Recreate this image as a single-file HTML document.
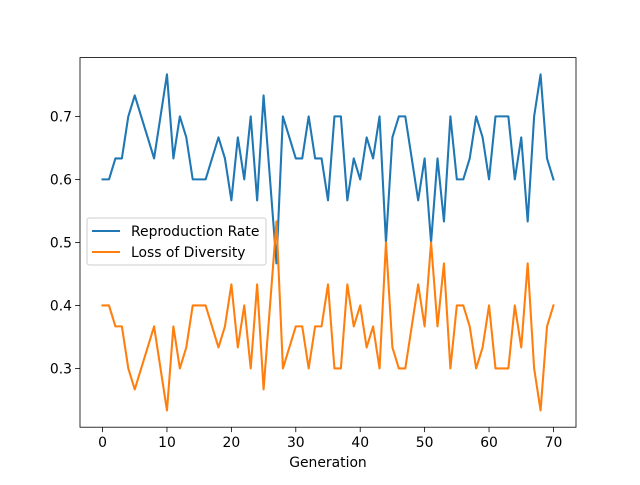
<!DOCTYPE html>
<html><head><meta charset="utf-8"><style>
body{margin:0;background:#fff}
svg text{font-family:"DejaVu Sans","Liberation Sans",sans-serif;font-size:13.9px;fill:#000}
</style></head><body>
<svg id="chart" width="640" height="480" xmlns="http://www.w3.org/2000/svg">
<rect width="640" height="480" fill="#fff"/>
<g id="plot"></g>
</svg>
<script>
const generations = Array.from({length:71},(_,i)=>i);
const reproductionRate = [0.6,0.6,0.6333,0.6333,0.7,0.7333,0.7,0.6667,0.6333,0.7,0.7667,0.6333,0.7,0.6667,0.6,0.6,0.6,0.6333,0.6667,0.6333,0.5667,0.6667,0.6,0.7,0.5667,0.7333,0.6,0.4667,0.7,0.6667,0.6333,0.6333,0.7,0.6333,0.6333,0.5667,0.7,0.7,0.5667,0.6333,0.6,0.6667,0.6333,0.7,0.5,0.6667,0.7,0.7,0.6333,0.5667,0.6333,0.5,0.6333,0.5333,0.7,0.6,0.6,0.6333,0.7,0.6667,0.6,0.7,0.7,0.7,0.6,0.6667,0.5333,0.7,0.7667,0.6333,0.6];
const lossOfDiversity = [0.4,0.4,0.3667,0.3667,0.3,0.2667,0.3,0.3333,0.3667,0.3,0.2333,0.3667,0.3,0.3333,0.4,0.4,0.4,0.3667,0.3333,0.3667,0.4333,0.3333,0.4,0.3,0.4333,0.2667,0.4,0.5333,0.3,0.3333,0.3667,0.3667,0.3,0.3667,0.3667,0.4333,0.3,0.3,0.4333,0.3667,0.4,0.3333,0.3667,0.3,0.5,0.3333,0.3,0.3,0.3667,0.4333,0.3667,0.5,0.3667,0.4667,0.3,0.4,0.4,0.3667,0.3,0.3333,0.4,0.3,0.3,0.3,0.4,0.3333,0.4667,0.3,0.2333,0.3667,0.4];
const xTicks = [0,10,20,30,40,50,60,70];
const yTicks = [0.3,0.4,0.5,0.6,0.7];

const L=80,R=576,T=57.6,B=427.2;
const xMin=-3.5,xMax=73.5,yMin=0.2067,yMax=0.7933;
const xs=v=>L+(v-xMin)/(xMax-xMin)*(R-L);
const ys=v=>B-(v-yMin)/(yMax-yMin)*(B-T);
const NS="http://www.w3.org/2000/svg";
const g=document.getElementById('plot');
function mk(tag,attrs,parent){const e=document.createElementNS(NS,tag);for(const k in attrs)e.setAttribute(k,attrs[k]);(parent||g).appendChild(e);return e;}

function series(vals,color,name){
  const p=mk('polyline',{points:vals.map((v,i)=>xs(generations[i])+','+ys(v)).join(' '),fill:'none',stroke:color,'stroke-width':2.08,'stroke-linejoin':'round','stroke-linecap':'square'});
  
  
}
series(reproductionRate,'#1f77b4','reproduction-rate-line');
series(lossOfDiversity,'#ff7f0e','loss-of-diversity-line');

const frame=mk('rect',{x:L,y:T,width:R-L,height:B-T,fill:'none',stroke:'#000','stroke-width':0.8});



xTicks.forEach(t=>{
  const x=xs(t);
  mk('line',{x1:x,x2:x,y1:B,y2:B+4.9,stroke:'#000','stroke-width':0.8});
  const tx=mk('text',{x:x,y:B+20,'text-anchor':'middle'});
  tx.textContent=t;
  
  
});
yTicks.forEach(t=>{
  const y=ys(t);
  mk('line',{x1:L-4.9,x2:L,y1:y,y2:y,stroke:'#000','stroke-width':0.8});
  const tx=mk('text',{x:L-8,y:y+5,'text-anchor':'end'});
  tx.textContent=t.toFixed(1);
  
  
});
const xl=mk('text',{x:(L+R)/2,y:467,'text-anchor':'middle'});
xl.textContent='Generation';



const lg=mk('g',{});


mk('rect',{x:87,y:218,width:179,height:47,rx:2.5,fill:'#fff','fill-opacity':0.8,stroke:'#ccc','stroke-width':1},lg);
[['Reproduction Rate','#1f77b4',231],['Loss of Diversity','#ff7f0e',252]].forEach(([lab,c,y])=>{
  const e=mk('g',{},lg);
  
  
  mk('line',{x1:92,x2:120,y1:y,y2:y,stroke:c,'stroke-width':2.08},e);
  const t=mk('text',{x:131,y:y+5},e);
  t.textContent=lab;
});
</script>
</body></html>
